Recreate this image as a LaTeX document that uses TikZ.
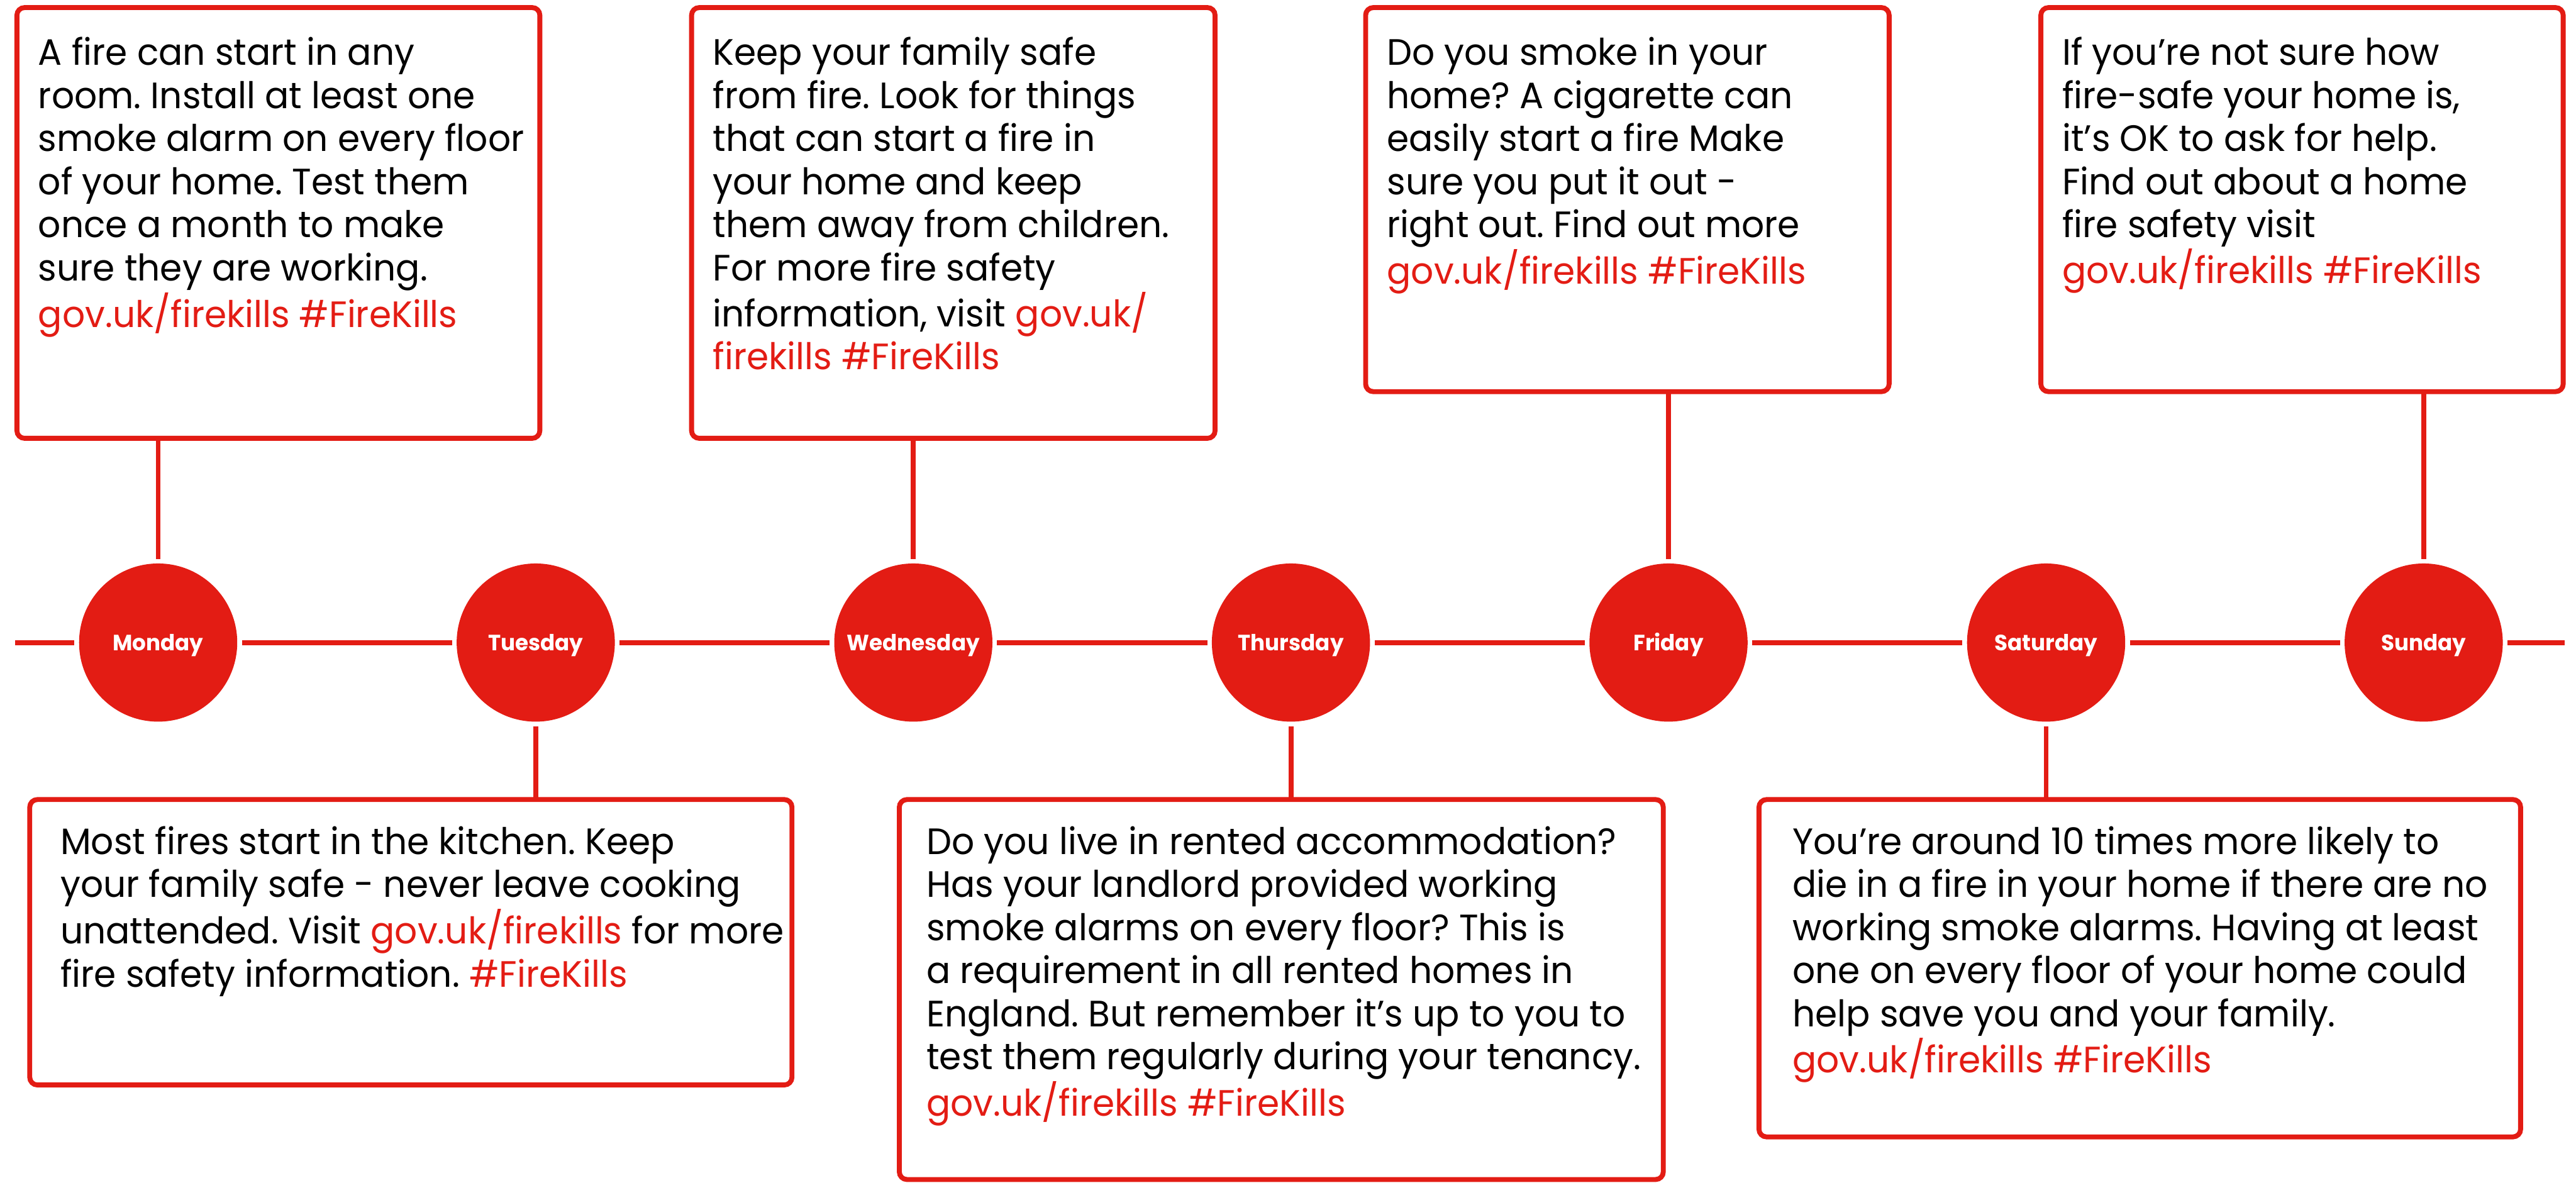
\documentclass[tikz,border=0pt]{standalone}
\usepackage{fontspec}
\setmainfont{Poppins}[FakeStretch=0.97]
\frenchspacing
\definecolor{firered}{RGB}{227,28,20}

\newcommand{\firelink}[1]{\textcolor{firered}{#1}}
\newcommand{\tipfont}{\fontsize{17.9pt}{21pt}\selectfont}
\newcommand{\dayfont}{\fontsize{10.8pt}{12pt}\selectfont\bfseries}

% one red dot on the timeline
\newcommand{\daydot}[3]{%
 \node[daydot] ({#1}) at ({#2}) {#3};%
}
% framed hint card: name, top left corner, width, height, text offset, text
\newcommand{\tipcard}[6]{%
 \node[tipbox, minimum width=#3, minimum height=#4] ({#1}) at ({#2}) {};%
 \node[tiptext] ({#1-text}) at ([shift={(#5)}]#1.north west) {#6};%
}

\tikzset{
  link/.style={draw=firered, line width=2.4pt},
  daydot/.style={circle, fill=firered, minimum size=2.71cm, inner sep=0pt,
    outer sep=0.08cm, text=white, font=\dayfont, text height=7.6pt, text depth=0pt},
  tipbox/.style={draw=firered, line width=2.4pt, rounded corners=0.13cm,
    anchor=north west, inner sep=0pt, outer sep=0pt},
  tiptext/.style={anchor=north west, align=left, inner sep=0pt, font=\tipfont,
    execute at begin node=\strut}
}

\begin{document}
\begin{tikzpicture}
  \useasboundingbox (0,0) rectangle (44.14,-20.26);

  % days
  \daydot{mon}{ 2.71,-11.01}{Monday}
  \daydot{tue}{ 9.18,-11.01}{Tuesday}
  \daydot{wed}{15.65,-11.01}{Wednesday}
  \daydot{thu}{22.12,-11.01}{Thursday}
  \daydot{fri}{28.59,-11.01}{Friday}
  \daydot{sat}{35.06,-11.01}{Saturday}
  \daydot{sun}{41.53,-11.01}{Sunday}
  \coordinate (start) at (0.26,-11.01);
  \coordinate (end) at (43.95,-11.01);

  % cards above the line
  \tipcard{moncard}{0.29,-0.13}{8.96cm}{7.38cm}{0.36,-0.50}{A fire can start in any\\room. Install at least one\\smoke alarm on every floor\\of your home. Test them\\once a month to make\\sure they are working.\\\firelink{gov.uk/firekills \#FireKills}}
  \tipcard{wedcard}{11.85,-0.13}{8.97cm}{7.38cm}{0.36,-0.50}{Keep your family safe\\from fire. Look for things\\that can start a fire in\\your home and keep\\them away from children.\\For more fire safety\\information, visit \firelink{gov.uk/}\\\firelink{firekills \#FireKills}}
  \tipcard{fricard}{23.40,-0.13}{8.97cm}{6.58cm}{0.36,-0.50}{Do you smoke in your\\home? A cigarette can\\easily start a fire Make\\sure you put it out -\\right out. Find out more\\\firelink{gov.uk/firekills \#FireKills}}
  \tipcard{suncard}{34.97,-0.13}{8.95cm}{6.58cm}{0.36,-0.50}{If you’re not sure how\\fire-safe your home is,\\it’s OK to ask for help.\\Find out about a home\\fire safety visit\\\firelink{gov.uk/firekills \#FireKills}}

  % cards below the line
  \tipcard{tuecard}{0.51,-13.70}{13.06cm}{4.89cm}{0.52,-0.45}{Most fires start in the kitchen. Keep\\your family safe - never leave cooking\\unattended. Visit \firelink{gov.uk/firekills} for more\\fire safety information. \firelink{\#FireKills}}
  \tipcard{thucard}{15.41,-13.70}{13.09cm}{6.51cm}{0.46,-0.45}{Do you live in rented accommodation?\\Has your landlord provided working\\smoke alarms on every floor? This is\\a requirement in all rented homes in\\England. But remember it’s up to you to\\test them regularly during your tenancy.\\\firelink{gov.uk/firekills \#FireKills}}
  \tipcard{satcard}{30.14,-13.70}{13.05cm}{5.78cm}{0.57,-0.45}{You’re around 10 times more likely to\\die in a fire in your home if there are no\\working smoke alarms. Having at least\\one on every floor of your home could\\help save you and your family.\\\firelink{gov.uk/firekills \#FireKills}}

  % timeline
  \foreach \a/\b in {start/mon, mon/tue, tue/wed, wed/thu, thu/fri, fri/sat, sat/sun, sun/end}
    \draw[link] (\a) -- (\b);

  % stems
  \foreach \d in {mon, wed, fri, sun}
    \draw[link] (\d) -- (\d |- \d card.south);
  \foreach \d in {tue, thu, sat}
    \draw[link] (\d) -- (\d |- \d card.north);
\end{tikzpicture}
\end{document}
